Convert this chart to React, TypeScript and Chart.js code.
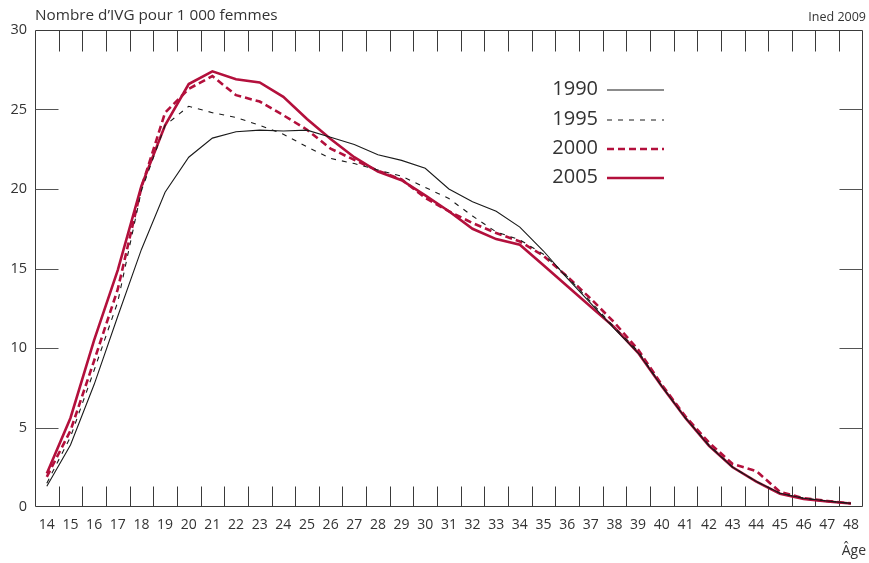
import React, { useEffect, useRef } from "react";
import { Chart, registerables } from "chart.js";

Chart.register(...registerables);

const ages = ["14","15","16","17","18","19","20","21","22","23","24","25","26","27","28","29","30","31","32","33","34","35","36","37","38","39","40","41","42","43","44","45","46","47","48"];

const s1990 = [1.3,3.9,7.7,12.0,16.2,19.8,22.0,23.2,23.6,23.7,23.65,23.7,23.25,22.8,22.15,21.8,21.3,20.0,19.2,18.6,17.6,16.1,14.4,12.8,11.2,9.7,7.6,5.6,3.85,2.5,1.6,0.86,0.55,0.38,0.23];
const s1995 = [1.5,4.4,8.6,12.9,19.9,24.0,25.2,24.8,24.5,24.0,23.45,22.65,21.92,21.6,21.2,20.8,20.1,19.4,18.3,17.3,16.8,15.9,14.5,12.9,11.3,9.8,7.6,5.6,3.9,2.5,1.6,0.86,0.55,0.38,0.23];
const s2000 = [1.9,4.8,9.2,13.7,20.1,24.8,26.3,27.1,25.9,25.5,24.64,23.73,22.54,21.83,21.15,20.6,19.44,18.6,17.86,17.23,16.7,15.8,14.5,13.1,11.6,9.9,7.7,5.7,4.05,2.7,2.26,0.95,0.55,0.38,0.23];
const s2005 = [2.1,5.6,10.5,14.9,20.2,24.0,26.6,27.4,26.9,26.7,25.8,24.4,23.15,22.0,21.1,20.55,19.6,18.6,17.5,16.85,16.5,15.2,13.9,12.6,11.3,9.7,7.6,5.6,3.85,2.5,1.6,0.84,0.5,0.35,0.22];

const seriesNames = ["1990", "1995", "2000", "2005"];
const yTickValues = [0, 5, 10, 15, 20, 25, 30];

const titleText = "Nombre d\u2019IVG pour 1 000 femmes";
const sourceText = "Ined 2009";
const xTitleText = "\u00C2ge";

const FONT = "'Open Sans', 'Noto Sans', sans-serif";
const RED = "#b3103c";
const BLACK = "#1a1a1a";
const TEXT = "#333333";

const decorPlugin = {
  id: "decor",
  beforeDatasetsDraw(chart: any) {
    const { ctx, chartArea: a, scales } = chart;
    const x = scales.x;
    const y = scales.y;
    ctx.save();
    ctx.strokeStyle = "#3a3a3a";
    ctx.lineWidth = 1;
    const L = Math.round(a.left) + 0.5;
    const R = Math.round(a.right) - 0.5;
    const T = Math.round(a.top) + 0.5;
    const B = Math.round(a.bottom) - 0.5;
    ctx.beginPath();
    ctx.moveTo(L, T);
    ctx.lineTo(R, T);
    ctx.lineTo(R, B);
    ctx.lineTo(L, B);
    ctx.closePath();
    ctx.stroke();
    ctx.beginPath();
    for (let i = 1; i < ages.length; i++) {
      const px = Math.round(x.getPixelForValue(i - 0.5)) + 0.5;
      ctx.moveTo(px, B);
      ctx.lineTo(px, B - 20);
      ctx.moveTo(px, T);
      ctx.lineTo(px, T + 21);
    }
    ctx.stroke();
    ctx.strokeStyle = "#555";
    ctx.beginPath();
    yTickValues.forEach((v) => {
      if (v === 0 || v === 30) return;
      const py = Math.round(y.getPixelForValue(v)) + 0.5;
      ctx.moveTo(L, py);
      ctx.lineTo(L + 23, py);
      ctx.moveTo(R, py);
      ctx.lineTo(R - 23, py);
    });
    ctx.stroke();
    ctx.restore();
  },
  afterDraw(chart: any) {
    const { ctx, chartArea: a } = chart;
    ctx.save();
    ctx.fillStyle = TEXT;
    ctx.textBaseline = "middle";
    ctx.font = `15.3px ${FONT}`;
    ctx.textAlign = "left";
    ctx.fillText(titleText, a.left, 16);
    ctx.font = `12.5px ${FONT}`;
    ctx.textAlign = "right";
    ctx.fillText(sourceText, 866, 17);
    ctx.font = `14px ${FONT}`;
    ctx.fillText(xTitleText, 866, 551);
    const legendY = [89, 119, 148, 177];
    chart.data.datasets.forEach((ds: any, i: number) => {
      const yy = legendY[i];
      ctx.font = `20px ${FONT}`;
      ctx.fillStyle = TEXT;
      ctx.textAlign = "right";
      ctx.fillText(ds.label, 598, yy);
      ctx.beginPath();
      ctx.strokeStyle = ds.borderColor;
      ctx.lineWidth = ds.borderWidth;
      ctx.setLineDash(ds.borderDash || []);
      ctx.moveTo(607, yy + 1);
      ctx.lineTo(664, yy + 1);
      ctx.stroke();
      ctx.setLineDash([]);
    });
    ctx.restore();
  },
};

export default function App() {
  const ref = useRef<HTMLCanvasElement | null>(null);
  useEffect(() => {
    document.body.style.margin = "0";
    const canvas = ref.current;
    if (!canvas) return;
    const chart = new Chart(canvas, {
      type: "line",
      data: {
        labels: ages,
        datasets: [
          { label: seriesNames[0], data: s1990, borderColor: BLACK, borderWidth: 1.1, pointRadius: 0, tension: 0, fill: false },
          { label: seriesNames[1], data: s1995, borderColor: BLACK, borderWidth: 1.1, borderDash: [5, 6], pointRadius: 0, tension: 0, fill: false },
          { label: seriesNames[2], data: s2000, borderColor: RED, borderWidth: 2.6, borderDash: [7, 4], pointRadius: 0, tension: 0, fill: false },
          { label: seriesNames[3], data: s2005, borderColor: RED, borderWidth: 2.6, pointRadius: 0, tension: 0, fill: false },
        ],
      },
      options: {
        responsive: false,
        animation: false,
        devicePixelRatio: 1,
        layout: { padding: { top: 30, right: 4, left: 0, bottom: 0 } },
        plugins: { legend: { display: false }, tooltip: { enabled: false }, title: { display: false } },
        scales: {
          x: {
            type: "category",
            offset: true,
            grid: { display: false, drawTicks: false },
            border: { display: false },
            ticks: { color: TEXT, font: { family: FONT, size: 14 }, padding: 10, autoSkip: false, maxRotation: 0 },
            afterFit: (s: any) => { s.height = 56; },
          },
          y: {
            min: 0,
            max: 30,
            grid: { display: false, drawTicks: false },
            border: { display: false },
            ticks: { stepSize: 5, color: TEXT, font: { family: FONT, size: 14.5 }, padding: 8 },
            afterFit: (s: any) => { s.width = 35; },
          },
        },
      },
      plugins: [decorPlugin],
    });
    return () => chart.destroy();
  }, []);
  return (
    <div style={{ position: "absolute", left: 0, top: 0, width: 869, height: 563, background: "#fff" }}>
      <canvas ref={ref} width={869} height={563} style={{ width: 869, height: 563, display: "block" }} />
    </div>
  );
}
